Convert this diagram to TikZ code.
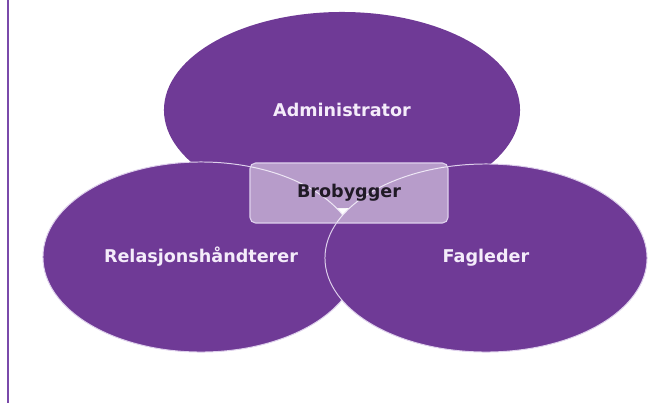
\documentclass[tikz,border=0pt]{standalone}
\usepackage{fontspec}
\setmainfont{DejaVu Sans}
\usepackage{tikz}
\usetikzlibrary{shapes.geometric,positioning}
\definecolor{rolepurple}{RGB}{111,58,150}
\definecolor{rolelight}{RGB}{222,208,236}
\definecolor{roleedge}{RGB}{122,74,170}
\definecolor{roletext}{RGB}{244,236,250}
\definecolor{bridgetext}{RGB}{32,26,38}
\tikzstyle{role} = [ellipse, inner sep=0pt, fill=rolepurple, text=roletext, font=\bfseries\fontsize{12.5}{15}\selectfont]
\tikzstyle{bridge} = [rectangle, rounded corners=4pt, inner sep=0pt, minimum width=4.95cm, minimum height=1.5cm, draw=rolelight, line width=0.8pt, fill=white, fill opacity=0.5, text opacity=1, text=bridgetext, font=\bfseries\fontsize{12.5}{15}\selectfont]

\begin{document}
\begin{tikzpicture}[x=0.025cm, y=-0.025cm]
\useasboundingbox (0,0) rectangle (652,403);
\draw[roleedge, line width=1.6pt] (8,0) -- (8,403);

\node[role, minimum width=8.9cm, minimum height=4.9cm] (admin) at (342,110) {Administrator};
\node[role, draw=rolelight, line width=0.7pt, minimum width=7.9cm, minimum height=4.75cm] (rel) at (201,257) {Relasjonshåndterer};
\node[role, draw=rolelight, line width=0.7pt, minimum width=8.05cm, minimum height=4.7cm] (fag) at (486,258) {Fagleder};

\node[bridge] (bro) at (349,193) {Brobygger};
\end{tikzpicture}
\end{document}
